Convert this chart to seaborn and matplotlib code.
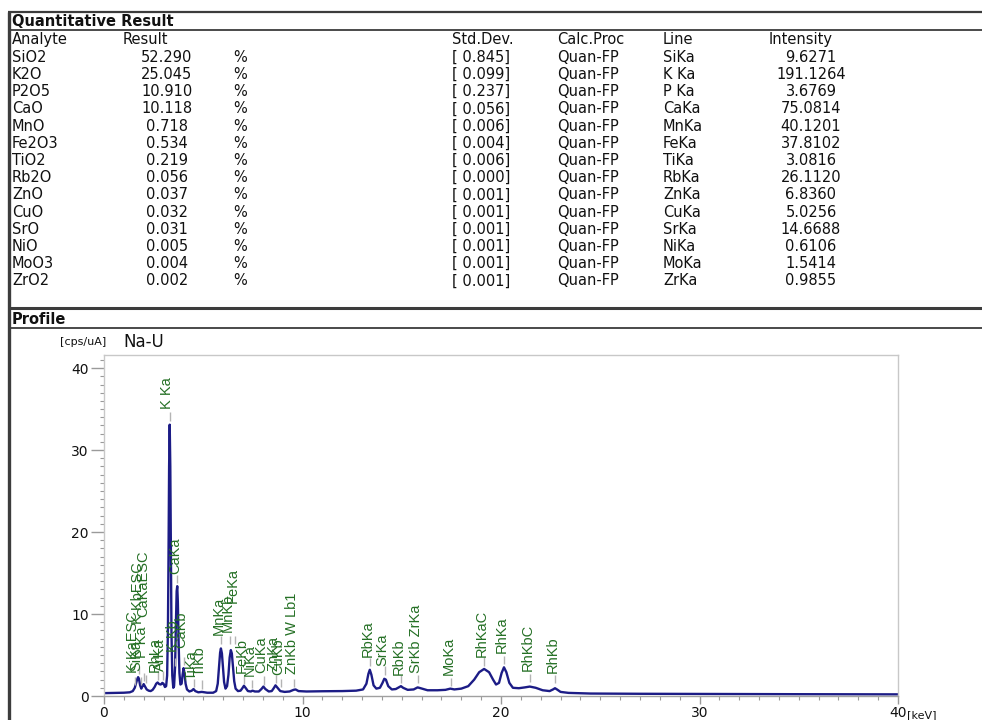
import matplotlib
matplotlib.use("Agg")
import matplotlib.pyplot as plt
from matplotlib.lines import Line2D
from matplotlib.ticker import MultipleLocator
import numpy as np
import pandas as pd
import seaborn as sns

# ---------------- table data ----------------
analytes = ["SiO2", "K2O", "P2O5", "CaO", "MnO", "Fe2O3", "TiO2", "Rb2O",
            "ZnO", "CuO", "SrO", "NiO", "MoO3", "ZrO2"]
results = ["52.290", "25.045", "10.910", "10.118", "0.718", "0.534", "0.219",
           "0.056", "0.037", "0.032", "0.031", "0.005", "0.004", "0.002"]
std_devs = ["0.845", "0.099", "0.237", "0.056", "0.006", "0.004", "0.006",
            "0.000", "0.001", "0.001", "0.001", "0.001", "0.001", "0.001"]
calc_proc = ["Quan-FP"] * 14
line_ids = ["SiKa", "K Ka", "P Ka", "CaKa", "MnKa", "FeKa", "TiKa", "RbKa",
            "ZnKa", "CuKa", "SrKa", "NiKa", "MoKa", "ZrKa"]
intensities = ["9.6271", "191.1264", "3.6769", "75.0814", "40.1201", "37.8102",
               "3.0816", "26.1120", "6.8360", "5.0256", "14.6688", "0.6106",
               "1.5414", "0.9855"]
headers = ["Analyte", "Result", "Std.Dev.", "Calc.Proc", "Line", "Intensity"]

# ---------------- spectrum ----------------
energy_kev = [0.00, 0.50, 1.00, 1.30, 1.45, 1.55, 1.62, 1.68, 1.72, 1.76, 1.82, 1.88,
              1.94, 2.00, 2.06, 2.15, 2.25, 2.35, 2.45, 2.55, 2.63, 2.70, 2.78, 2.86,
              2.94, 3.00, 3.07, 3.13, 3.18, 3.22, 3.25, 3.28, 3.31, 3.34, 3.37, 3.40,
              3.44, 3.49, 3.53, 3.58, 3.62, 3.66, 3.69, 3.72, 3.76, 3.80, 3.85, 3.91,
              3.96, 4.01, 4.06, 4.11, 4.18, 4.30, 4.42, 4.51, 4.60, 4.75, 4.93, 5.20,
              5.50, 5.65, 5.73, 5.80, 5.85, 5.89, 5.94, 5.99, 6.05, 6.12, 6.20, 6.27,
              6.33, 6.39, 6.44, 6.50, 6.56, 6.63, 6.75, 6.88, 6.97, 7.05, 7.13, 7.25,
              7.40, 7.48, 7.60, 7.80, 7.93, 8.03, 8.13, 8.30, 8.45, 8.55, 8.64, 8.74,
              8.88, 9.10, 9.35, 9.55, 9.65, 9.80, 10.2, 11.0, 12.0, 12.7, 13.05, 13.22,
              13.32, 13.39, 13.47, 13.58, 13.72, 13.90, 14.03, 14.12, 14.20, 14.32,
              14.50, 14.70, 14.88, 14.96, 15.07, 15.30, 15.60, 15.80, 15.95, 16.30,
              16.80, 17.20, 17.45, 17.65, 18.00, 18.35, 18.65, 18.90, 19.15, 19.40,
              19.60, 19.75, 19.90, 20.03, 20.15, 20.27, 20.42, 20.60, 20.90, 21.20,
              21.45, 21.75, 22.10, 22.45, 22.62, 22.72, 22.82, 23.00, 23.40, 24.5,
              27.0, 30.0, 35.0, 40.0]
cps = [0.35, 0.38, 0.40, 0.45, 0.6, 1.0, 1.6, 2.1, 2.3, 2.1, 1.3, 0.9,
       1.2, 1.45, 1.2, 0.8, 0.65, 0.6, 0.75, 1.1, 1.5, 1.65, 1.45, 1.4,
       1.6, 1.5, 1.1, 1.2, 2.5, 8.0, 17.0, 28.0, 33.1, 28.0, 17.0, 7.5,
       2.5, 1.0, 1.2, 3.5, 8.5, 12.8, 13.4, 11.5, 6.5, 2.8, 1.4, 1.5,
       2.6, 3.4, 2.7, 1.5, 0.8, 0.55, 0.65, 0.85, 0.6, 0.45, 0.5, 0.4,
       0.4, 0.6, 1.5, 3.8, 5.3, 5.8, 5.2, 3.6, 1.7, 0.9, 1.2, 2.6,
       4.7, 5.6, 5.2, 3.5, 1.8, 0.9, 0.6, 0.65, 0.95, 1.25, 1.0, 0.6,
       0.55, 0.65, 0.55, 0.55, 0.85, 1.15, 0.85, 0.55, 0.6, 0.95, 1.3, 1.0,
       0.6, 0.5, 0.55, 0.75, 0.8, 0.6, 0.55, 0.58, 0.6, 0.65, 0.8, 1.5,
       2.7, 3.2, 2.6, 1.3, 0.9, 1.0, 1.6, 2.1, 2.0, 1.2,
       0.8, 0.85, 1.1, 1.2, 1.0, 0.75, 0.8, 1.05, 0.95, 0.7,
       0.7, 0.75, 0.9, 0.8, 0.9, 1.2, 2.0, 2.9, 3.3, 2.9,
       2.0, 1.4, 1.6, 2.8, 3.5, 2.9, 1.6, 1.0, 0.95, 1.05,
       1.15, 1.0, 0.7, 0.6, 0.8, 0.95, 0.8, 0.5, 0.38, 0.3,
       0.27, 0.25, 0.22, 0.2]

# ---------------- peak identification labels ----------------
peak_names = ["K KaESC", "SiKa", "K KbESC", "P Ka", "CaKaESC", "RhLa", "ArKa",
              "K Ka", "K Kb", "CaKa", "CaKb", "TiKa", "TiKb",
              "MnKa", "MnKb", "FeKa", "FeKb", "NiKa", "CuKa", "ZnKa", "CuKb",
              "ZnKb W Lb1", "RbKa", "SrKa", "RbKb", "SrKb ZrKa", "MoKa",
              "RhKaC", "RhKa", "RhKbC", "RhKb"]
peak_kev = [1.57, 1.74, 1.85, 2.01, 2.10, 2.70, 2.96,
            3.31, 3.59, 3.69, 4.01, 4.51, 4.93,
            5.90, 6.35, 6.62, 7.06, 7.48, 8.04, 8.64, 8.90,
            9.57, 13.39, 14.16, 14.96, 15.83, 17.48,
            19.16, 20.17, 21.46, 22.72]
tick_base = [1.3, 2.7, 1.3, 1.8, 1.6, 2.0, 2.0,
             33.6, 3.6, 13.8, 3.8, 1.1, 0.9,
             6.3, 6.3, 6.3, 1.5, 1.0, 1.4, 1.6, 1.1,
             1.1, 3.6, 2.6, 1.6, 1.6, 1.2,
             3.7, 3.9, 1.7, 1.6]
label_base = [2.8, 3.0, 8.8, 4.6, 9.6, 2.9, 3.1,
              35.0, 5.4, 14.9, 5.8, 1.9, 2.4,
              7.5, 7.8, 11.3, 2.8, 2.4, 2.8, 3.0, 2.6,
              2.7, 4.7, 3.6, 2.6, 2.8, 2.6,
              4.8, 5.3, 3.1, 2.8]

# ---------------- figure ----------------
W, H = 982, 720
sns.set_theme(style="white")
plt.rcParams["font.family"] = ["DejaVu Sans"]
fig = plt.figure(figsize=(W / 100, H / 100), dpi=100)


def fx(x):
    return x / W


def fy(y):
    return 1 - y / H


def fline(xs, ys, lw, color="#3c3c3c"):
    fig.add_artist(Line2D([fx(v) for v in xs], [fy(v) for v in ys], lw=lw,
                          color=color, transform=fig.transFigure, solid_capstyle="butt"))


# frames
fline([8, 990], [12, 12], 1.6)
fline([8, 990], [30, 30], 1.3)
fline([8.5, 8.5], [12, 730], 2.4)
fline([8, 990], [308.5, 308.5], 2.2)
fline([8, 990], [328, 328], 1.3)

tcol = "#111111"
fs = 10.5
fig.text(fx(12), fy(21), "Quantitative Result", fontsize=fs, fontweight="bold",
         color=tcol, va="center", ha="left")
fig.text(fx(12), fy(319), "Profile", fontsize=fs, fontweight="bold",
         color=tcol, va="center", ha="left")

hdr_x = [12, 123, 452, 557, 663, 769]
for h, x in zip(headers, hdr_x):
    fig.text(fx(x), fy(39.5), h, fontsize=fs, color=tcol, va="center", ha="left")

for i in range(len(analytes)):
    y = fy(57.3 + i * 17.2)
    fig.text(fx(12), y, analytes[i], fontsize=fs, color=tcol, va="center", ha="left")
    fig.text(fx(167), y, results[i], fontsize=fs, color=tcol, va="center", ha="center")
    fig.text(fx(233), y, "%", fontsize=fs, color=tcol, va="center", ha="left")
    fig.text(fx(452), y, "[ " + std_devs[i] + "]", fontsize=fs, color=tcol,
             va="center", ha="left")
    fig.text(fx(557), y, calc_proc[i], fontsize=fs, color=tcol, va="center", ha="left")
    fig.text(fx(663), y, line_ids[i], fontsize=fs, color=tcol, va="center", ha="left")
    fig.text(fx(811), y, intensities[i], fontsize=fs, color=tcol, va="center", ha="center")

# profile axes
ax = fig.add_axes([fx(104), fy(696), (898 - 104) / W, (696 - 355) / H])
df = pd.DataFrame({"keV": energy_kev, "cps": cps})
sns.lineplot(data=df, x="keV", y="cps", ax=ax, color="#1c1c86", lw=1.7,
             estimator=None, sort=False)
ax.set_xlim(0, 40)
ax.set_ylim(0, 41.6)
ax.set_xlabel("")
ax.set_ylabel("")
ax.set_xticks([0, 10, 20, 30, 40])
ax.set_yticks([0, 10, 20, 30, 40])
ax.xaxis.set_minor_locator(MultipleLocator(1))
ax.yaxis.set_minor_locator(MultipleLocator(1))
for s in ax.spines.values():
    s.set_color("#c8c8c8")
    s.set_linewidth(1.0)
ax.spines["bottom"].set_color("#a0a0a0")
ax.tick_params(axis="both", which="both", direction="out", colors="#9a9a9a",
               labelcolor="#111111", labelsize=10)
ax.tick_params(axis="y", which="major", length=9.5, width=1, pad=1.5)
ax.tick_params(axis="y", which="minor", length=3, width=0.8)
ax.tick_params(axis="x", which="major", length=5.5, width=1, pad=1.5)
ax.tick_params(axis="x", which="minor", length=3, width=0.8)
ax.tick_params(axis="x", which="both", bottom=True)
ax.tick_params(axis="y", which="both", left=True)

# identification ticks and labels
pk = np.array(peak_kev)
tb = np.array(tick_base)
ax.vlines(pk, tb, tb + 1.0, colors="#b4b4b4", lw=1.0)
for name, kev, lb in zip(peak_names, peak_kev, label_base):
    ax.text(kev - 0.12, lb, name, rotation=90, ha="center", va="bottom",
            fontsize=10.5, color="#257025",
            family=["Liberation Sans Narrow", "Liberation Sans", "DejaVu Sans"])

fig.text(fx(106), fy(342), "[cps/uA]", fontsize=8, color=tcol, ha="right", va="center")
fig.text(fx(123), fy(342), "Na-U", fontsize=12, color=tcol, ha="left", va="center")
fig.text(fx(907), fy(715), "[keV]", fontsize=8, color=tcol, ha="left", va="center")

fig.savefig("out.png", dpi=100, facecolor="white")
